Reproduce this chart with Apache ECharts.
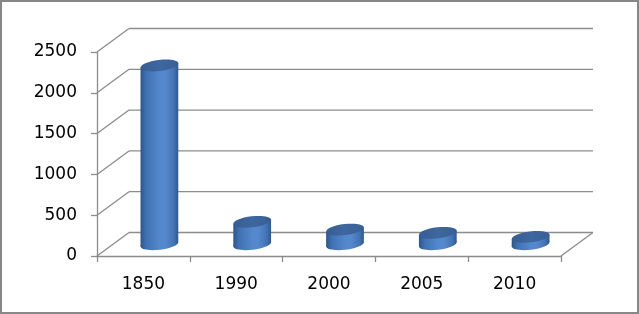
<!DOCTYPE html>
<html>
<head>
<meta charset="utf-8">
<script src="https://cdn.jsdelivr.net/npm/echarts@6/dist/echarts.min.js"></script>
<style>
html,body{margin:0;padding:0;background:#fff;}
#chart{width:639px;height:314px;}
</style>
</head>
<body>
<div id="chart"></div>
<script>
// ---- data ----
const categories = ['1850', '1990', '2000', '2005', '2010'];
const values = [2190, 275, 180, 140, 90];
const yTickValues = [0, 500, 1000, 1500, 2000, 2500];
const yMin = 0, yMax = 2500, yInterval = 500;

// ---- style constants (3D depth offset of the back wall) ----
const DEPTH_DX = 32, DEPTH_DY = -23.5;
const GRID_COLOR = '#8c8c8c';
const FONT = "'DejaVu Sans'";

const chart = echarts.init(document.getElementById('chart'), null, {renderer: 'canvas'});

function wallItem(params, api) {
  const cs = params.coordSys;
  const v = api.value(1);
  const y = api.coord([0, v])[1];
  const left = cs.x, right = cs.x + cs.width;
  const children = [
    {type: 'line', shape: {x1: left, y1: y, x2: left + DEPTH_DX, y2: y + DEPTH_DY},
     style: {stroke: GRID_COLOR, lineWidth: 1.3}},
    {type: 'line', shape: {x1: left + DEPTH_DX, y1: y + DEPTH_DY, x2: right + DEPTH_DX, y2: y + DEPTH_DY},
     style: {stroke: GRID_COLOR, lineWidth: 1.3}}
  ];
  if (v === yMin) {
    children.push({type: 'line', shape: {x1: right, y1: y, x2: right + DEPTH_DX, y2: y + DEPTH_DY},
      style: {stroke: GRID_COLOR, lineWidth: 1.3}});
  }
  return {type: 'group', children: children};
}

function cylinderItem(params, api) {
  const i = api.value(0);
  const v = api.value(1);
  const base = api.coord([i, 0]);
  const top = api.coord([i, v]);
  const bandW = api.size([1, 0])[0];
  const cx = base[0] + DEPTH_DX / 2;
  const yb = base[1] + DEPTH_DY / 2;
  const yt = top[1] + DEPTH_DY / 2;
  const rx = bandW * 0.205;
  const ry = 5.5;
  const th = 7 * Math.PI / 180;
  const ex = rx * Math.cos(th), ey = rx * Math.sin(th);
  const bodyFill = new echarts.graphic.LinearGradient(0, 0, 1, 0, [
    {offset: 0, color: '#2d558b'},
    {offset: 0.15, color: '#4071b2'},
    {offset: 0.5, color: '#5487cb'},
    {offset: 0.65, color: '#5589cd'},
    {offset: 0.88, color: '#4473b3'},
    {offset: 1, color: '#2f588f'}
  ]);
  const topFill = new echarts.graphic.LinearGradient(0, 0, 1, 0, [
    {offset: 0, color: '#375d92'},
    {offset: 0.5, color: '#3e679f'},
    {offset: 1, color: '#395f95'}
  ]);
  return {
    type: 'group',
    children: [
      {type: 'ellipse', shape: {cx: 0, cy: 0, rx: rx, ry: ry},
       x: cx, y: yb, rotation: th, style: {fill: bodyFill}},
      {type: 'polygon', shape: {points: [
        [cx - ex, yt + ey], [cx + ex, yt - ey], [cx + ex, yb - ey], [cx - ex, yb + ey]
      ]}, style: {fill: bodyFill}},
      {type: 'ellipse', shape: {cx: 0, cy: 0, rx: rx, ry: ry},
       x: cx, y: yt, rotation: th, style: {fill: topFill}}
    ]
  };
}

const option = {
  backgroundColor: '#ffffff',
  animation: false,
  grid: {left: 97, right: 78, top: 52, bottom: 58},
  xAxis: {
    type: 'category',
    data: categories,
    boundaryGap: true,
    axisLine: {show: true, lineStyle: {color: GRID_COLOR, width: 1.3}},
    axisTick: {show: true, length: 6, lineStyle: {color: GRID_COLOR, width: 1.3}},
    axisLabel: {color: '#000', fontFamily: FONT, fontSize: 17, margin: 20},
    splitLine: {show: false}
  },
  yAxis: {
    type: 'value',
    min: yMin, max: yMax, interval: yInterval,
    axisLine: {show: true, lineStyle: {color: GRID_COLOR, width: 1.3}},
    axisTick: {show: true, length: 6, lineStyle: {color: GRID_COLOR, width: 1.3}},
    axisLabel: {color: '#000', fontFamily: FONT, fontSize: 17, margin: 20,
      padding: [4, 0, 0, 0],
      formatter: v => String(v)},
    splitLine: {show: false}
  },
  series: [
    {
      type: 'custom',
      renderItem: wallItem,
      data: yTickValues.map(v => [0, v]),
      encode: {x: 0, y: 1},
      z: 1,
      silent: true
    },
    {
      type: 'custom',
      renderItem: cylinderItem,
      data: values.map((v, i) => [i, v]),
      encode: {x: 0, y: 1},
      z: 3
    }
  ],
  graphic: [
    {type: 'rect', shape: {x: 1, y: 1, width: 637, height: 312},
     style: {fill: 'none', stroke: '#878787', lineWidth: 2}, z: 100}
  ]
};
chart.setOption(option);
</script>
</body>
</html>
